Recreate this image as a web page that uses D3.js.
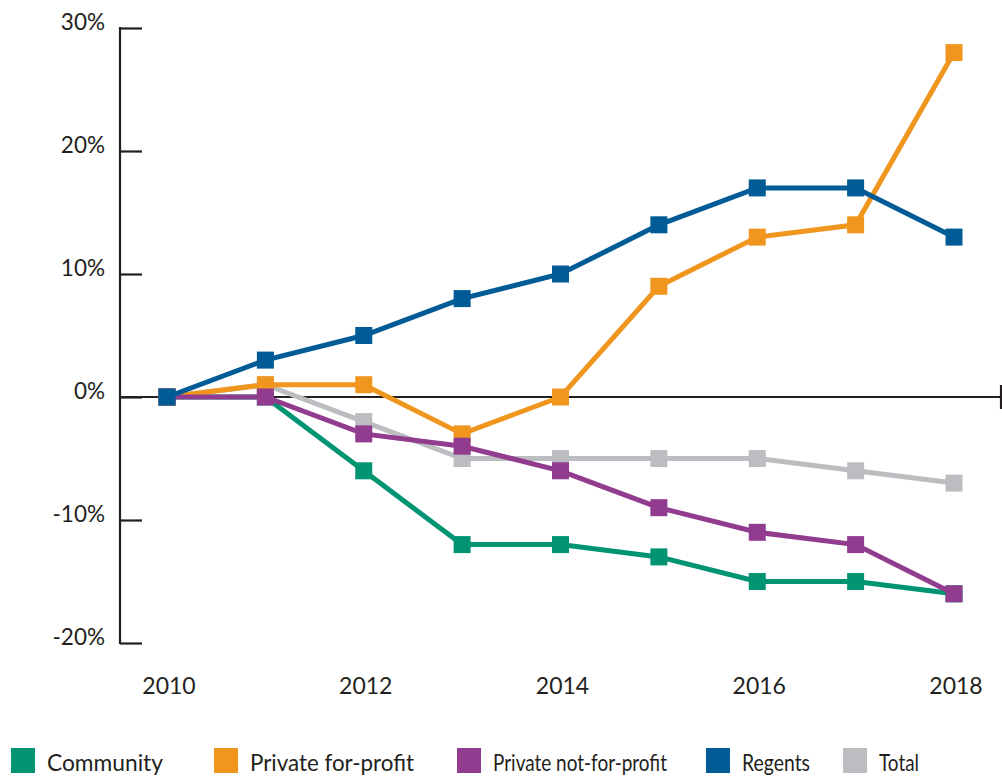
<!DOCTYPE html>
<html><head><meta charset="utf-8">
<script src="https://cdn.jsdelivr.net/npm/d3@7"></script>
<style>body{margin:0;background:#fff}svg{display:block}text{font-family:Lato,"Open Sans",sans-serif;fill:#231f20}</style>
</head><body>
<svg id="c" width="1002" height="778"></svg>
<script>
const years = [2010, 2011, 2012, 2013, 2014, 2015, 2016, 2017, 2018];
const community = [0, 0, -6, -12, -12, -13, -15, -15, -16];
const privateForProfit = [0, 1, 1, -3, 0, 9, 13, 14, 28];
const privateNotForProfit = [0, 0, -3, -4, -6, -9, -11, -12, -16];
const regents = [0, 3, 5, 8, 10, 14, 17, 17, 13];
const total = [0, 1, -2, -5, -5, -5, -5, -6, -7];
const yTicks = [-20, -10, 0, 10, 20, 30];
const xTicks = [2010, 2012, 2014, 2016, 2018];
const seriesNames = ["Community", "Private for-profit", "Private not-for-profit", "Regents", "Total"];
const colors = ["#009473", "#f0961e", "#923c8f", "#005b96", "#bcbdc0"];

const svg = d3.select("#c");
const x = d3.scaleLinear().domain([2010, 2018]).range([167, 954]);
const y = d3.scaleLinear().domain([-20, 30]).range([643, 28]);
const axisColor = "#231f20";

// y axis
const yAxis = svg.append("g").attr("transform", "translate(120,0)")
  .call(d3.axisRight(y).tickValues(yTicks).tickSize(22).tickFormat(""));
yAxis.select(".domain").remove();
yAxis.selectAll("line").attr("stroke", axisColor).attr("stroke-width", 2.2);
svg.append("line").attr("x1", 120).attr("x2", 120).attr("y1", y(30) - 1).attr("y2", y(-20) + 1)
  .attr("stroke", axisColor).attr("stroke-width", 2.2);
svg.selectAll(".ylab").data(yTicks).enter().append("text")
  .attr("x", 105).attr("y", d => y(d) + 2).attr("text-anchor", "end")
  .attr("font-size", 22.5).text(d => d + "%");

// x axis at 0
svg.append("line").attr("x1", 120).attr("x2", 1001).attr("y1", y(0)).attr("y2", y(0))
  .attr("stroke", axisColor).attr("stroke-width", 2.2);
svg.append("line").attr("x1", 1001).attr("x2", 1001).attr("y1", y(0) - 12).attr("y2", y(0) + 12)
  .attr("stroke", axisColor).attr("stroke-width", 2.2);
svg.selectAll(".xlab").data(xTicks).enter().append("text")
  .attr("x", d => x(d) + 2).attr("y", 694).attr("text-anchor", "middle")
  .attr("font-size", 23).text(d => d);

// series
const seriesData = [total, community, privateForProfit, privateNotForProfit, regents];
const seriesIdx = [4, 0, 1, 2, 3];
const line = d3.line().x((d, i) => x(years[i])).y(d => y(d));
seriesData.forEach((vals, k) => {
  const c = colors[seriesIdx[k]];
  const g = svg.append("g");
  g.append("path").attr("d", line(vals)).attr("fill", "none").attr("stroke", c)
    .attr("stroke-width", 5).attr("stroke-linejoin", "miter");
  g.selectAll("rect").data(vals).enter().append("rect")
    .attr("x", (d, i) => x(years[i]) - 8.5).attr("y", d => y(d) - 8.5)
    .attr("width", 17).attr("height", 17).attr("fill", c);
});

// legend
const legX = [11, 214, 457, 706, 843];
const legW = [116, 164, 174, 68, 40];
seriesNames.forEach((n, i) => {
  svg.append("rect").attr("x", legX[i]).attr("y", 748).attr("width", 24).attr("height", 25).attr("fill", colors[i]);
  svg.append("text").attr("x", legX[i] + 36).attr("y", 771).attr("font-size", 23)
    .attr("textLength", legW[i]).attr("lengthAdjust", "spacingAndGlyphs").text(n);
});
</script>
</body></html>
